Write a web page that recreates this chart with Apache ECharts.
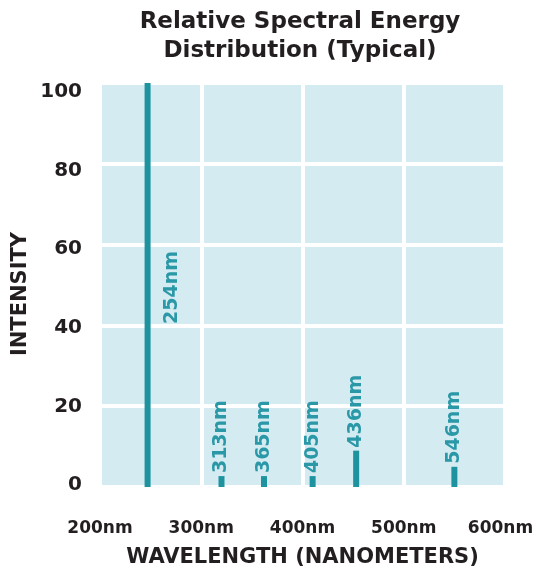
<!DOCTYPE html>
<html>
<head>
<meta charset="utf-8">
<script src="https://cdn.jsdelivr.net/npm/echarts@6/dist/echarts.min.js"></script>
<style>
html,body{margin:0;padding:0;background:#fff;}
#chart{width:535px;height:568px;}
</style>
</head>
<body>
<div id="chart"></div>
<script>
// Data
var lineNames = ['254nm', '313nm', '365nm', '405nm', '436nm', '546nm'];
var linePositions = [247, 320, 362, 410, 453, 550];   // x position on the wavelength scale as drawn
var intensities = [100, 2.7, 2.7, 2.7, 9, 5];
var xTicks = [200, 300, 400, 500, 600];
var yTicks = [0, 20, 40, 60, 80, 100];

var FONT = '"DejaVu Sans"';
var INK = '#231f20';
var TEAL = '#1e93a0';

var seriesData = lineNames.map(function (name, i) {
  var item = { name: name, value: [linePositions[i], intensities[i]] };
  if (i === 0) {
    item.label = { position: [27, 241] };
  }
  return item;
});

var chart = echarts.init(document.getElementById('chart'), null, { renderer: 'canvas' });
chart.setOption({
  backgroundColor: '#ffffff',
  animation: false,
  title: {
    text: 'Relative Spectral Energy\nDistribution (Typical)',
    left: 300,
    top: 8,
    textAlign: 'center',
    padding: 0,
    textStyle: { fontFamily: FONT, fontWeight: 'bold', fontSize: 23, lineHeight: 29, color: INK }
  },
  grid: {
    left: 100, right: 30, top: 83, bottom: 81,
    outerBoundsMode: 'none',
    containLabel: false,
    show: true, backgroundColor: '#d5ebf2', borderWidth: 0
  },
  xAxis: {
    type: 'value',
    min: xTicks[0], max: xTicks[xTicks.length - 1], interval: 100,
    name: 'WAVELENGTH (NANOMETERS)',
    nameLocation: 'middle',
    nameGap: 60,
    nameTextStyle: { fontFamily: FONT, fontWeight: 'bold', fontSize: 21, color: INK },
    axisLine: { show: false },
    axisTick: { show: false },
    axisLabel: {
      margin: 33,
      formatter: function (v) {
        return v === xTicks[xTicks.length - 1] ? '{last|' + v + 'nm}' : v + 'nm';
      },
      rich: {
        last: { fontFamily: FONT, fontWeight: 'bold', fontSize: 17, color: INK, padding: [0, 9, 0, 0] }
      },
      fontFamily: FONT, fontWeight: 'bold', fontSize: 17, color: INK
    },
    splitLine: { show: true, lineStyle: { color: '#ffffff', width: 4 } }
  },
  yAxis: [{
    type: 'value',
    min: yTicks[0], max: yTicks[yTicks.length - 1], interval: 20,
    name: 'INTENSITY',
    nameLocation: 'middle',
    nameGap: 69,
    nameTextStyle: { fontFamily: FONT, fontWeight: 'bold', fontSize: 21, color: INK, padding: [0, 0, 0, -18] },
    axisLine: { show: false },
    axisTick: { show: false },
    axisLabel: { show: false },
    splitLine: { show: true, lineStyle: { color: '#ffffff', width: 4 } }
  }, {
    // label-only axis: the printed tick labels sit slightly off the grid lines
    type: 'value',
    position: 'left',
    min: -0.5, max: 102.3,
    axisLine: { show: false },
    axisTick: { show: false },
    splitLine: { show: false },
    axisLabel: {
      customValues: yTicks,
      margin: 18,
      fontFamily: FONT, fontWeight: 'bold', fontSize: 20, color: INK
    }
  }],
  series: [{
    type: 'bar',
    yAxisIndex: 0,
    barWidth: 6,
    itemStyle: { color: TEAL },
    label: {
      show: true,
      position: 'top',
      distance: 3,
      rotate: 90,
      align: 'left',
      verticalAlign: 'middle',
      formatter: function (p) { return p.name; },
      fontFamily: FONT, fontWeight: 'bold', fontSize: 19, color: '#2a98a6'
    },
    data: seriesData
  }]
});
</script>
</body>
</html>
